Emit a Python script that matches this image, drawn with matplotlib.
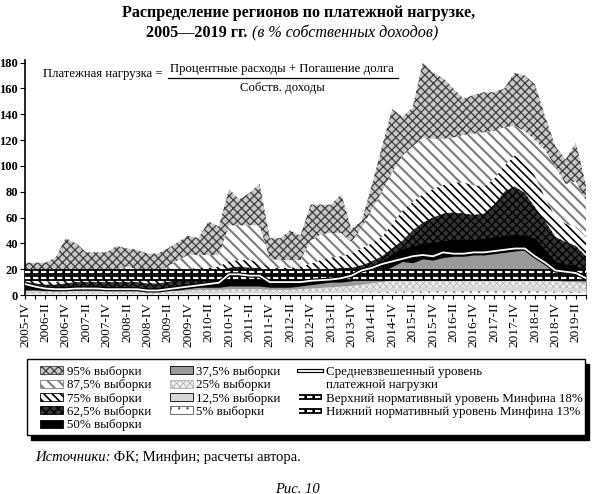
import matplotlib.pyplot as plt
import matplotlib.patches as mpatches
import matplotlib.patheffects as pe
from matplotlib.lines import Line2D
import numpy as np

plt.rcParams['font.family'] = ['Liberation Serif', 'DejaVu Serif']

# quarters 2005-IV ... 2019-III
QUARTERS = [f"{y}-{q}" for y in range(2005, 2020) for q in ("I", "II", "III", "IV")][3:59]

p95 = [25, 25, 25, 29, 44, 40, 33, 33, 33, 38,
       36, 35, 32, 32, 36, 41, 46, 44, 57, 53,
       82, 74, 79, 86, 44, 44, 50, 46, 70, 70,
       70, 78, 51, 57, 85, 115, 144, 138, 145, 180,
       172, 168, 160, 152, 155, 157, 157, 160, 172, 170,
       163, 138, 115, 105, 118, 85]
p875 = [18, 17, 16, 15, 17, 18, 18, 18, 18, 20,
        22, 20, 18, 18, 22, 27, 31, 31, 31, 31,
        54, 54, 54, 54, 28, 27, 27, 27, 42, 47,
        48, 48, 41, 52, 66, 80, 95, 108, 115, 122,
        121, 121, 122, 124, 125, 126, 127, 130, 131, 127,
        120, 112, 99, 86, 88, 73]
p75 = [13, 12, 10, 10, 12, 13, 13, 13, 13, 14,
       14, 13, 13, 13, 15, 17, 20, 21, 21, 22,
       26, 27, 27, 26, 21, 21, 21, 22, 24, 27,
       29, 30, 32, 36, 40, 45, 55, 65, 72, 78,
       82, 85, 87, 87, 85, 84, 90, 100, 108, 104,
       92, 75, 60, 55, 53, 45]
p625 = [10, 9, 8, 8, 9, 10, 10, 10, 10, 10,
        10, 10, 9, 9, 10, 12, 13, 14, 15, 16,
        21, 22, 21, 21, 16, 16, 16, 17, 18, 19,
        20, 21, 21, 23, 26, 30, 36, 42, 50, 56,
        60, 63, 64, 63, 62, 63, 70, 80, 84, 79,
        68, 57, 45, 41, 38, 30]
p50 = [8, 7, 6, 6, 6, 7, 7, 7, 6, 6,
       6, 6, 5, 5, 6, 7, 8, 9, 10, 11,
       17, 17, 16, 16, 11, 11, 11, 11, 12, 13,
       14, 15, 16, 19, 22, 26, 32, 36, 38, 40,
       41, 42, 43, 43, 43, 44, 45, 46, 47, 46,
       44, 35, 26, 24, 23, 18]
p375 = [4, 4, 3.5, 3.5, 4, 4, 4, 4, 4, 4,
        4, 4, 3, 3, 4, 4, 5, 6, 6, 6,
        7, 7, 7, 7, 6, 6, 6, 7, 8, 9,
        10, 10, 11, 13, 15, 18, 22, 26, 25, 28,
        27, 29, 30, 30, 31, 31, 32, 33, 34, 35,
        30, 24, 19, 16, 14, 11]
p25 = [3, 3, 2.5, 2.5, 3, 3, 3, 3, 3, 3,
       3, 3, 2.5, 2.5, 3, 3, 3.5, 4, 4, 4,
       4.5, 4.5, 4.5, 4.5, 4, 4, 4, 4.5, 5, 5.5,
       6, 6.5, 7, 8, 9, 10, 11, 11, 11, 12,
       12, 12, 12, 12, 12, 12, 12, 12, 12, 12,
       12, 11, 11, 10, 10, 9]
p125 = [2, 2, 1.5, 1.5, 2, 2, 2, 2, 2, 2,
        2, 2, 1.5, 1.5, 2, 2, 2.5, 2.5, 3, 3,
        3, 3, 3, 3, 2.5, 2.5, 2.5, 3, 3, 3.5,
        3.5, 4, 4, 4.5, 5, 5.5, 6, 6, 6, 6.5,
        6.5, 6.5, 6.5, 7, 7, 7, 7, 7, 7, 7,
        7, 6.5, 6, 6, 5.5, 5]
p5 = [0.8, 0.8, 0.6, 0.6, 0.8, 0.8, 0.8, 0.8, 0.8, 0.8,
      0.8, 0.8, 0.6, 0.6, 0.8, 0.8, 1, 1, 1, 1,
      1.2, 1.2, 1.2, 1.2, 1, 1, 1, 1.2, 1.2, 1.4,
      1.5, 1.6, 1.8, 2, 2, 2.2, 2.4, 2.5, 2.5, 2.6,
      2.6, 2.7, 2.7, 2.8, 2.8, 2.8, 2.8, 2.8, 2.8, 2.8,
      2.8, 2.6, 2.5, 2.4, 2.3, 2.2]
wavg = [8.5, 6.5, 5, 4.5, 4.5, 5, 5, 5, 4.5, 4.5,
        4.5, 4.5, 3.5, 3.5, 4.5, 5.5, 6.5, 7.5, 8.5, 9.5,
        16, 16, 15, 15, 10, 10, 10, 10, 11, 11.5,
        12, 13, 15, 19, 21, 24, 26, 28, 30, 31,
        30, 33, 32, 32, 33, 33, 34, 35, 36, 36,
        30, 25, 19, 18, 17, 13]
UPPER_NORM = 18
LOWER_NORM = 13

labels = ["95% выборки", "87,5% выборки", "75% выборки", "62,5% выборки", "50% выборки",
          "37,5% выборки", "25% выборки", "12,5% выборки", "5% выборки"]
series = [p95, p875, p75, p625, p50, p375, p25, p125, p5]
# facecolor, hatch, hatch colour, hatch linewidth
styles = [
    ("#c8c8c8", "xxxx", "#3c3c3c", 0.9),
    ("white", "\\\\\\", "#7c7c7c", 1.5),
    ("white", "\\\\\\\\", "black", 1.2),
    ("#353535", "xxxx", "black", 1.0),
    ("black", None, "black", 0.5),
    ("#9a9a9a", None, "#9a9a9a", 0.5),
    ("#efefef", "xxxxx", "#b0b0b0", 0.6),
    ("#d8d8d8", None, "#d8d8d8", 0.5),
    ("white", "..", "#555555", 0.5),
]


def set_hatch_lw(artist, lw):
    """Hatch width per artist (newer matplotlib) or via rc at draw time."""
    if hasattr(artist, "set_hatch_linewidth"):
        artist.set_hatch_linewidth(lw)
    draw = artist.draw

    def _draw(renderer, _draw=draw, _lw=lw):
        with plt.rc_context({"hatch.linewidth": _lw}):
            _draw(renderer)
    artist.draw = _draw


x = np.arange(len(QUARTERS))

fig = plt.figure(figsize=(5.95, 4.94), dpi=100)
ax = fig.add_axes([25 / 595, 1 - 295 / 494, 561 / 595, 235 / 494])

handles = []
for i, (vals, (fc, hatch, hc, hlw)) in enumerate(zip(series, styles)):
    coll = ax.fill_between(x, 0, vals, facecolor=fc, edgecolor=hc, hatch=hatch,
                           linewidth=0, zorder=1 + i * 0.1)
    set_hatch_lw(coll, hlw)
    handles.append(mpatches.Patch(facecolor=fc, edgecolor=hc, hatch=hatch, linewidth=0))

# normative levels
norm_kw = dict(color="black", lw=4.2, solid_capstyle="butt", zorder=3)
dash_kw = dict(color="white", lw=1.6, dashes=(2.4, 1.2), zorder=3.1)
for lvl in (UPPER_NORM, LOWER_NORM):
    ax.plot(x, [lvl] * len(x), **norm_kw)
    ax.plot(x, [lvl] * len(x), **dash_kw)

# weighted average
ax.plot(x, wavg, color="white", lw=1.3, zorder=4,
        path_effects=[pe.Stroke(linewidth=3.0, foreground="black"), pe.Normal()])

ax.set_xlim(0, len(x) - 1)
ax.set_ylim(0, 182)
ax.set_yticks(range(0, 181, 20))
ax.set_xticks(x)
ax.set_xticklabels([q if k % 2 == 0 else "" for k, q in enumerate(QUARTERS)],
                   rotation=90, fontsize=9.5)
for lab in ax.get_yticklabels():
    lab.set_fontweight("bold")
    lab.set_fontsize(9)
ax.tick_params(axis="x", length=3, width=0.8, pad=2)
ax.tick_params(axis="y", length=3.5, width=0.8, pad=1.5)
for s in ("top", "right"):
    ax.spines[s].set_visible(False)
ax.spines["left"].set_linewidth(1.2)
ax.spines["bottom"].set_linewidth(0.8)
ax.spines["bottom"].set_zorder(5)

# formula
ax.text(0.032, 0.94, "Платежная нагрузка =", transform=ax.transAxes, fontsize=9.2,
        va="center", ha="left")
ax.text(0.458, 0.962, "Процентные расходы + Погашение долга", transform=ax.transAxes,
        fontsize=9.2, va="center", ha="center")
ax.add_line(Line2D([0.255, 0.665], [0.925, 0.925], transform=ax.transAxes,
                   color="black", lw=0.9))
ax.text(0.458, 0.882, "Собств. доходы", transform=ax.transAxes, fontsize=9.2,
        va="center", ha="center")

# title
fig.text(0.502, 1 - 13 / 494, "Распределение регионов по платежной нагрузке,",
         ha="center", va="center", fontsize=11.6, fontweight="bold")
t2 = fig.text(248 / 595, 1 - 33 / 494, "2005—2019 гг.", ha="right", va="center",
              fontsize=11.6, fontweight="bold")
ax.annotate(" (в % собственных доходов)", xy=(1, 0), xycoords=t2, va="bottom",
            ha="left", fontsize=11.6, fontstyle="italic", annotation_clip=False)

# legend box with a solid shadow
fig.add_artist(mpatches.Rectangle((31 / 595, 1 - 440 / 494), 558 / 595, 76 / 494,
                                  transform=fig.transFigure, facecolor="black",
                                  edgecolor="black", zorder=3.8))
fig.add_artist(mpatches.Rectangle((27 / 595, 1 - 435 / 494), 558 / 595, 76 / 494,
                                  transform=fig.transFigure, facecolor="white",
                                  edgecolor="black", lw=1.0, zorder=3.9))

blank = Line2D([], [], linestyle="none")
avg_h = Line2D([], [], color="white", lw=1.3,
               path_effects=[pe.Stroke(linewidth=3.0, foreground="black"), pe.Normal()])
norm_h = (Line2D([], [], **{k: v for k, v in norm_kw.items() if k != "zorder"}),
          Line2D([], [], **{k: v for k, v in dash_kw.items() if k != "zorder"}))
leg_handles = handles + [avg_h, blank, norm_h, norm_h]
leg_labels = labels + ["Средневзвешенный уровень", "платежной нагрузки",
                       "Верхний нормативный уровень Минфина 18%",
                       "Нижний нормативный уровень Минфина 13%"]
leg = fig.legend(leg_handles, leg_labels, ncol=3, loc="upper left",
                 bbox_to_anchor=(40 / 595, 1 - 433 / 494, 543 / 595, 67 / 494),
                 mode="expand", fontsize=9.4, frameon=False,
                 handlelength=1.75, handleheight=0.55, handletextpad=0.3,
                 labelspacing=0.1, borderpad=0.0, borderaxespad=0.0)
leg.set_zorder(4)
for lh, (fc, hatch, hc, hlw) in zip(leg.legend_handles[:9], styles):
    lh.set_edgecolor("black" if hatch is None else hc)
    lh.set_linewidth(0.6)
    set_hatch_lw(lh, hlw)

# source and figure number
t3 = fig.text(35 / 595, 1 - 457 / 494, "Источники:", fontsize=10.5, fontstyle="italic",
              va="center", ha="left")
ax.annotate(" ФК; Минфин; расчеты автора.", xy=(1, 0), xycoords=t3, va="bottom",
            ha="left", fontsize=10.5, annotation_clip=False)
fig.text(0.5, 1 - 489 / 494, "Рис. 10", fontsize=10.5, fontstyle="italic",
         ha="center", va="center")

fig.savefig("out.png", dpi=100)
